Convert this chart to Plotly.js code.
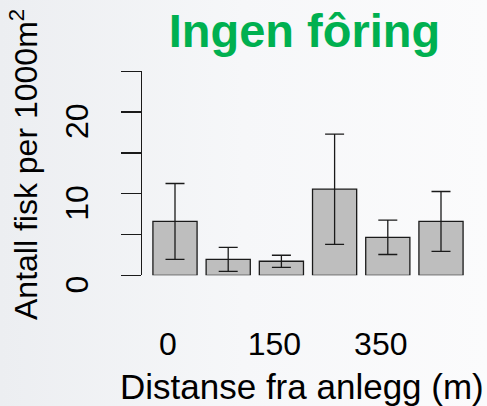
<!DOCTYPE html>
<html>
<head>
<meta charset="utf-8">
<script src="https://cdn.plot.ly/plotly-3.0.1.min.js"></script>
<style>
  html, body { margin: 0; padding: 0; }
  body { width: 487px; height: 406px; background: linear-gradient(to right, #eceef1 0%, #f6f7f9 50%, #fbfbfc 100%); }
  #chart { width: 487px; height: 406px; }
</style>
</head>
<body>
<div id="chart"></div>
<script>
// Data (bars in order of distance)
const positions = [0, 1, 2, 3, 4, 5];
const means = [6.6, 1.95, 1.72, 10.55, 4.65, 6.6];
const errors = [4.65, 1.47, 0.74, 6.75, 2.1, 3.67];
const xTickVals = [0, 2, 4];
const xTickText = ['0', '150', '350'];
const yTickVals = [0, 10, 20];
const yTickText = ['0', '10', '20'];
const yMinorTickVals = [5, 15, 25];

const W = 487, H = 406;
const px = v => v / W;
const py = v => 1 - v / H;

const trace = {
  type: 'bar',
  x: positions,
  y: means,
  marker: { color: '#bebebe', line: { color: '#1a1a1a', width: 1.3 } },
  error_y: { type: 'data', array: errors, visible: true, color: '#1a1a1a', thickness: 1.3, width: 9.5 },
  hoverinfo: 'none'
};

const layout = {
  width: W, height: H,
  margin: { l: 0, r: 0, t: 0, b: 0 },
  paper_bgcolor: 'rgba(0,0,0,0)',
  plot_bgcolor: 'rgba(0,0,0,0)',
  showlegend: false,
  bargap: 0.17,
  font: { family: 'Liberation Sans, Arial, sans-serif', color: '#000' },
  title: {
    text: 'Ingen fôring',
    font: { family: 'Liberation Sans, Arial, sans-serif', size: 47, color: '#00b050', weight: 'bold' },
    x: px(304.5), xanchor: 'center', xref: 'paper',
    y: py(31), yanchor: 'middle', yref: 'paper'
  },
  xaxis: {
    domain: [px(148.4), px(467.6)],
    range: [-0.5, 5.5],
    tickmode: 'array', tickvals: xTickVals, ticktext: xTickText,
    ticks: '', showline: false, showgrid: false, zeroline: false,
    tickfont: { size: 32, color: '#000' },
    ticklabelstandoff: 47,
    ticklabelshift: -7,
    automargin: false, fixedrange: true
  },
  yaxis: {
    domain: [py(275.3), py(71.3)],
    range: [0, 25],
    anchor: 'free', position: px(141),
    tickmode: 'array', tickvals: yTickVals, ticktext: yTickText,
    ticks: 'outside', ticklen: 20, tickwidth: 1.3, tickcolor: '#1a1a1a',
    minor: { tickmode: 'array', tickvals: yMinorTickVals, ticks: 'outside', ticklen: 20, tickwidth: 1.3, tickcolor: '#1a1a1a', showgrid: false },
    showline: true, linecolor: '#1a1a1a', linewidth: 1.3,
    showgrid: false, zeroline: false,
    tickangle: -90,
    tickfont: { size: 32, color: '#000' },
    ticklabelstandoff: 20,
    ticklabelshift: 14,
    automargin: false, fixedrange: true
  },
  annotations: [
    { text: 'Distanse fra anlegg (m)', xref: 'paper', yref: 'paper',
      x: px(301.5), y: py(386), xanchor: 'center', yanchor: 'middle', showarrow: false,
      font: { size: 35, color: '#000' } },
    { text: 'Antall fisk per 1000m<sup>2</sup>', xref: 'paper', yref: 'paper',
      x: px(24), y: py(165), xanchor: 'center', yanchor: 'middle', showarrow: false, textangle: -90,
      font: { size: 32, color: '#000' } }
  ]
};

Plotly.newPlot('chart', [trace], layout, { displayModeBar: false, staticPlot: true });
</script>
</body>
</html>
